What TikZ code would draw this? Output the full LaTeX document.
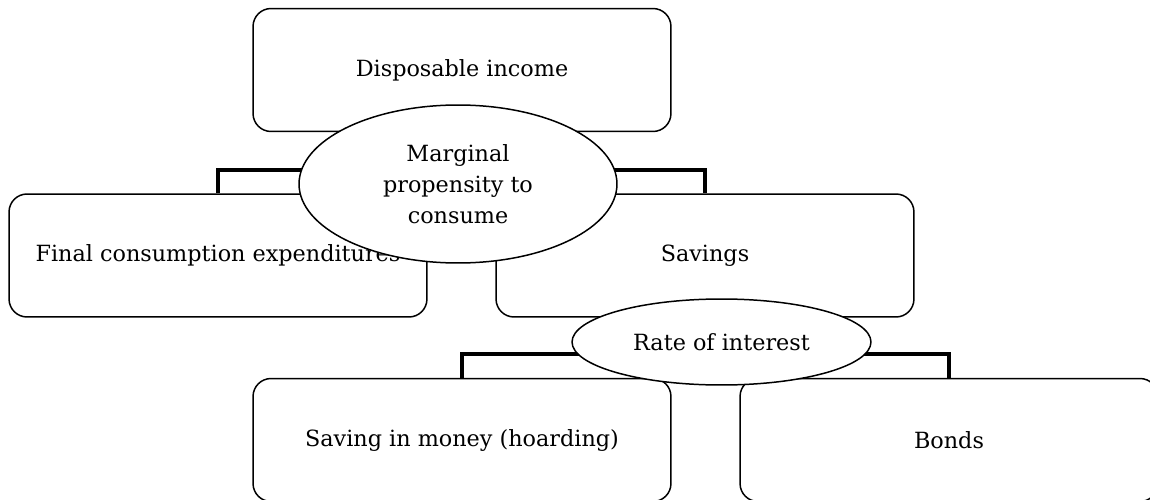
\documentclass[tikz,border=0pt]{standalone}
\usepackage{fontspec}
\setmainfont{DejaVu Serif}
\usetikzlibrary{shapes.geometric}
\tikzset{
  box/.style={draw, rounded corners=0.36cm, line width=0.85pt,
    minimum width=8.36cm, minimum height=2.46cm, inner sep=0pt},
  oval/.style={draw, ellipse, fill=white, line width=0.85pt,
    inner sep=0pt, align=center},
  link/.style={line width=2.6pt}
}
\begin{document}
\begin{tikzpicture}[x=0.02cm, y=-0.02cm,
    font=\fontsize{12.7}{17.6}\selectfont]
        \useasboundingbox (0,0) rectangle (1150,500);
        \path (462,70)    node[box] (DI)  {Disposable income}
              (218,255.5) node[box] (FCE) {Final consumption expenditures}
              (705,255.5) node[box] (Sav) {Savings}
              (462,440)   node[box] (SIM) {Saving in money (hoarding)}
              (949,440)   node[box] (Bon) {Bonds};
        \coordinate (up) at (462,170);
        \coordinate (low) at (705,354);
        \draw[link] (DI) -- (up);
        \draw[link] (FCE.north) |- (up) -| (Sav.north);
        \draw[link] (Sav) -- (low);
        \draw[link] (SIM.north) |- (low) -| (Bon.north);
        \path (458,184) node[oval, minimum width=6.36cm, minimum height=3.16cm] (MPC)
                {Marginal\\propensity to\\consume}
              (721.5,342) node[oval, minimum width=5.98cm, minimum height=1.72cm] (RoI)
                {Rate of interest};
      \end{tikzpicture}
\end{document}
